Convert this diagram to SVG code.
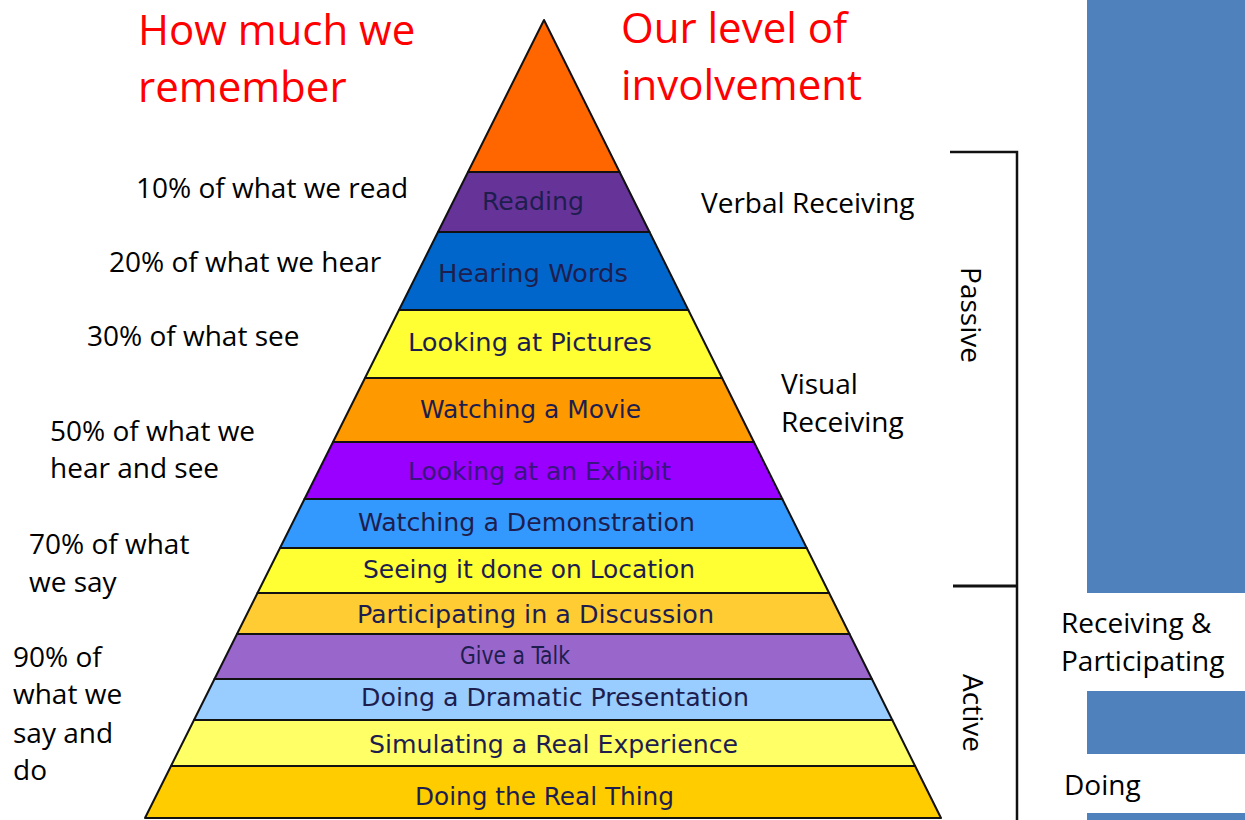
<svg xmlns="http://www.w3.org/2000/svg" width="1245" height="820" viewBox="0 0 1245 820">
<style>
.band{stroke:#111;stroke-width:2;stroke-linejoin:round}
.bt{font-family:"DejaVu Sans Condensed","DejaVu Sans",sans-serif;font-size:24px;fill:#1e1e4e}
.lbl{font-family:"Open Sans","Liberation Sans",sans-serif;font-size:28px;fill:#000}
.head{font-family:"Open Sans","Liberation Sans",sans-serif;font-size:42px;fill:#ff0000}
.blue{fill:#4f81bd}
.br{stroke:#111;stroke-width:2.5;fill:none}
</style>
<rect width="1245" height="820" fill="#fff"/>
<g id="side-bars">
<rect class="blue" x="1087" y="0" width="158" height="593"/>
<rect class="blue" x="1087" y="691" width="158" height="63"/>
<rect class="blue" x="1087" y="813" width="158" height="7"/>
</g>
<g id="headings">
<text class="head" x="138" y="45">How much we</text>
<text class="head" x="138" y="102">remember</text>
<text class="head" x="621" y="43">Our level of</text>
<text class="head" x="621" y="100">involvement</text>
</g>
<g id="pyramid">
<g id="apex"><polygon class="band" fill="#ff6600" points="544,20 619.6,172 468,172"/></g>
<g id="reading"><polygon class="band" fill="#663399" points="468,172 619.6,172 649.5,232 438,232"/><text class="bt" x="482" y="210" textLength="102" lengthAdjust="spacingAndGlyphs">Reading</text></g>
<g id="hearing"><polygon class="band" fill="#0066cc" points="438,232 649.5,232 688.3,310 399,310"/><text class="bt" x="438" y="282" textLength="190" lengthAdjust="spacingAndGlyphs">Hearing Words</text></g>
<g id="pictures"><polygon class="band" fill="#ffff33" points="399,310 688.3,310 722.1,378 365,378"/><text class="bt" x="408" y="351" textLength="244" lengthAdjust="spacingAndGlyphs">Looking at Pictures</text></g>
<g id="movie"><polygon class="band" fill="#ff9900" points="365,378 722.1,378 753.9,442 333,442"/><text class="bt" x="420" y="418" textLength="221" lengthAdjust="spacingAndGlyphs">Watching a Movie</text></g>
<g id="exhibit"><polygon class="band" fill="#9900ff" points="333,442 753.9,442 782.3,499 304.5,499"/><text class="bt" x="408" y="480" textLength="263" lengthAdjust="spacingAndGlyphs" style="fill:#3a1580">Looking at an Exhibit</text></g>
<g id="demonstration"><polygon class="band" fill="#3399ff" points="304.5,499 782.3,499 806.7,548 280,548"/><text class="bt" x="358" y="531" textLength="337" lengthAdjust="spacingAndGlyphs">Watching a Demonstration</text></g>
<g id="location"><polygon class="band" fill="#ffff33" points="280,548 806.7,548 829.1,593 257.5,593"/><text class="bt" x="363" y="578" textLength="332" lengthAdjust="spacingAndGlyphs">Seeing it done on Location</text></g>
<g id="discussion"><polygon class="band" fill="#ffcc33" points="257.5,593 829.1,593 849.5,634 237,634"/><text class="bt" x="357" y="623" textLength="357" lengthAdjust="spacingAndGlyphs">Participating in a Discussion</text></g>
<g id="talk"><polygon class="band" fill="#9966cc" points="237,634 849.5,634 871.9,679 214.5,679"/><text class="bt" x="460" y="664" textLength="110" lengthAdjust="spacingAndGlyphs">Give a Talk</text></g>
<g id="dramatic"><polygon class="band" fill="#99ccff" points="214.5,679 871.9,679 892.3,720 194,720"/><text class="bt" x="361" y="706" textLength="388" lengthAdjust="spacingAndGlyphs">Doing a Dramatic Presentation</text></g>
<g id="simulating"><polygon class="band" fill="#ffff66" points="194,720 892.3,720 915.1,766 171,766"/><text class="bt" x="369" y="753" textLength="369" lengthAdjust="spacingAndGlyphs">Simulating a Real Experience</text></g>
<g id="real-thing"><polygon class="band" fill="#ffcc00" points="171,766 915.1,766 941,818 145,818"/><text class="bt" x="415" y="805" textLength="259" lengthAdjust="spacingAndGlyphs">Doing the Real Thing</text></g>
</g>
<g id="memory-labels">
<text class="lbl" x="136" y="198">10% of what we read</text>
<text class="lbl" x="109" y="272">20% of what we hear</text>
<text class="lbl" x="87" y="346">30% of what see</text>
<text class="lbl" x="50" y="441">50% of what we</text>
<text class="lbl" x="50" y="478">hear and see</text>
<text class="lbl" x="29" y="554">70% of what</text>
<text class="lbl" x="29" y="592">we say</text>
<text class="lbl" x="13" y="667">90% of</text>
<text class="lbl" x="13" y="704">what we</text>
<text class="lbl" x="13" y="743">say and</text>
<text class="lbl" x="13" y="780">do</text>
</g>
<g id="involvement-labels">
<text class="lbl" x="701" y="213">Verbal Receiving</text>
<text class="lbl" x="781" y="394">Visual</text>
<text class="lbl" x="781" y="432">Receiving</text>
<text class="lbl" x="1061" y="633">Receiving &amp;</text>
<text class="lbl" x="1061" y="671">Participating</text>
<text class="lbl" x="1064" y="795">Doing</text>
</g>
<g id="connectors">
<polyline class="br" points="950,152 1017,152 1017,820"/>
<line class="br" x1="953" y1="586" x2="1017" y2="586" style="stroke-width:3"/>
</g>
<g id="phase-labels">
<text class="lbl" transform="translate(961,315) rotate(90)" text-anchor="middle">Passive</text>
<text class="lbl" transform="translate(963,713) rotate(90)" text-anchor="middle">Active</text>
</g>
</svg>
